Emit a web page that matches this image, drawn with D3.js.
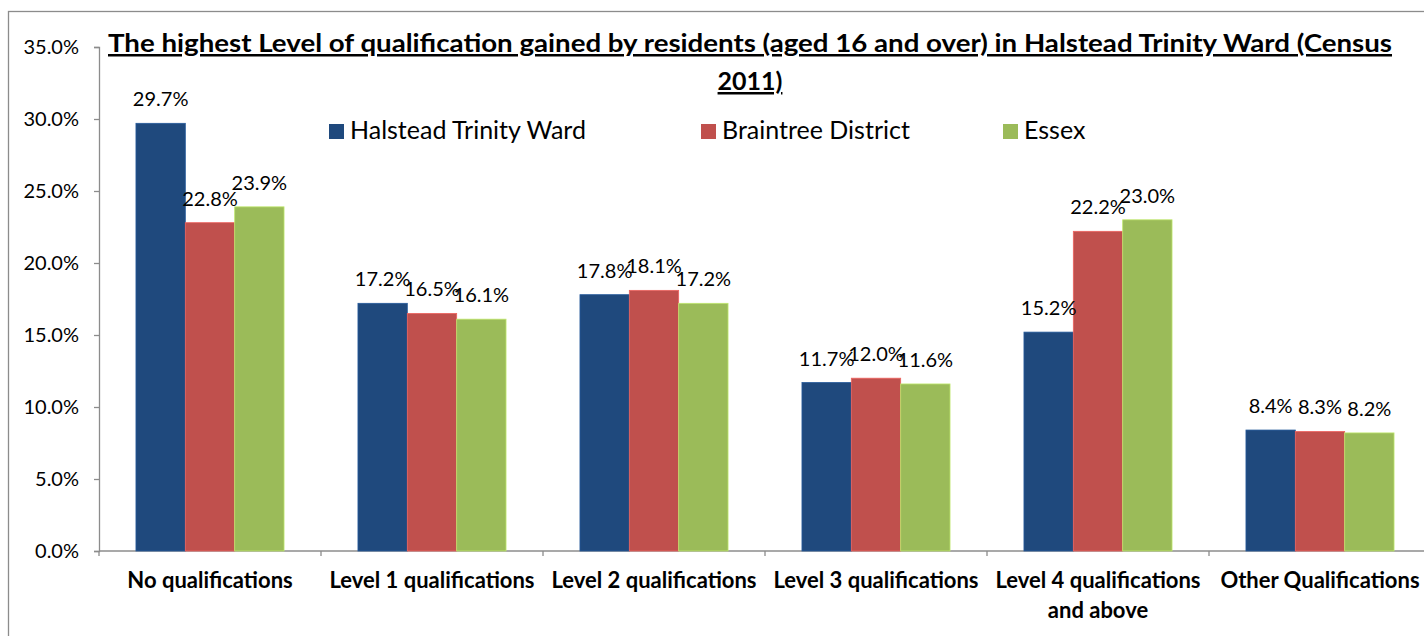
<!DOCTYPE html>
<html lang="en">
<head>
<meta charset="UTF-8">
<title>Highest level of qualification - Halstead Trinity Ward</title>
<script src="https://cdn.jsdelivr.net/npm/d3@7"></script>
<style>
    body { margin: 0; background: #fff; }
    svg { display: block; font-family: "Lato", "Open Sans", sans-serif; }
</style>
</head>
<body>
<div id="chart"></div>
<script>
    // ---------------- data ----------------
    const categories = ["No qualifications", "Level 1 qualifications", "Level 2 qualifications",
        "Level 3 qualifications", "Level 4 qualifications\nand above", "Other Qualifications"];
    const seriesNames = ["Halstead Trinity Ward", "Braintree District", "Essex"];
    const halstead = [29.7, 17.2, 17.8, 11.7, 15.2, 8.4];
    const braintree = [22.8, 16.5, 18.1, 12.0, 22.2, 8.3];
    const essex = [23.9, 16.1, 17.2, 11.6, 23.0, 8.2];
    const yTicks = [0, 5, 10, 15, 20, 25, 30, 35];
    const colors = ["#1F497D", "#C0504D", "#9BBB59"];

    const seriesValues = [halstead, braintree, essex];

    // ---------------- layout ----------------
    const W = 1424, H = 636;
    const plotLeft = 99, plotTop = 47, plotBottom = 551;
    const band = 222;

    const svg = d3.select("#chart").append("svg")
        .attr("width", W).attr("height", H);

    // outer chart border (cut off at right/bottom like the source)
    svg.append("rect")
        .attr("x", 8.5).attr("y", 11.5)
        .attr("width", W + 20).attr("height", H + 20)
        .attr("fill", "none").attr("stroke", "#8c8c8c").attr("stroke-width", 1.3);

    const x0 = d3.scaleBand()
        .domain(categories)
        .range([plotLeft, plotLeft + band * categories.length])
        .paddingInner(0.333).paddingOuter(0.1665);
    const x1 = d3.scaleBand()
        .domain(seriesNames)
        .range([0, x0.bandwidth()]);
    const y = d3.scaleLinear().domain([0, 35]).range([plotBottom, plotTop]);

    // y axis
    const yAxis = d3.axisLeft(y)
        .tickValues(yTicks)
        .tickFormat(d => d.toFixed(1) + "%")
        .tickSizeOuter(0).tickSize(5).tickPadding(15);
    const gy = svg.append("g").attr("transform", `translate(${plotLeft},0)`).call(yAxis);
    gy.select(".domain").attr("stroke", "#8c8c8c").attr("stroke-width", 1.3);
    gy.selectAll(".tick line").attr("stroke", "#8c8c8c").attr("stroke-width", 1.3);
    gy.selectAll("text").attr("font-size", 20).attr("fill", "#000")
        .attr("font-family", "Lato, sans-serif");

    // x axis (category boundaries as ticks)
    svg.append("line")
        .attr("x1", plotLeft).attr("x2", W)
        .attr("y1", plotBottom).attr("y2", plotBottom)
        .attr("stroke", "#8c8c8c").attr("stroke-width", 1.3);
    svg.selectAll(".xtick")
        .data(d3.range(categories.length + 1))
        .enter().append("line")
        .attr("x1", i => plotLeft + i * band).attr("x2", i => plotLeft + i * band)
        .attr("y1", plotBottom).attr("y2", plotBottom + 5)
        .attr("stroke", "#8c8c8c").attr("stroke-width", 1.3);

    // category labels
    svg.selectAll(".cat")
        .data(categories)
        .enter().append("text")
        .attr("text-anchor", "middle")
        .attr("font-size", 22).attr("font-weight", "bold")
        .attr("x", d => x0(d) + x0.bandwidth() / 2)
        .attr("y", 588)
        .each(function (d) {
            const t = d3.select(this);
            d.split("\n").forEach((line, i) => {
                t.append("tspan")
                    .attr("x", x0(d) + x0.bandwidth() / 2)
                    .attr("dy", i === 0 ? 0 : 30)
                    .text(line);
            });
        });

    // bars
    const groups = svg.selectAll(".group")
        .data(categories)
        .enter().append("g")
        .attr("transform", d => `translate(${x0(d)},0)`);

    groups.selectAll("rect")
        .data((d, ci) => seriesNames.map((s, si) => ({ s, v: seriesValues[si][ci], si })))
        .enter().append("rect")
        .attr("x", d => x1(d.s))
        .attr("y", d => y(d.v))
        .attr("width", x1.bandwidth())
        .attr("height", d => plotBottom - y(d.v))
        .attr("fill", d => colors[d.si])
        .attr("stroke", d => d3.color(colors[d.si]).brighter(0.6))
        .attr("stroke-width", 0.8);

    groups.selectAll("text")
        .data((d, ci) => seriesNames.map((s, si) => ({ s, v: seriesValues[si][ci], si })))
        .enter().append("text")
        .attr("text-anchor", "middle")
        .attr("font-size", 20)
        .attr("x", d => x1(d.s) + x1.bandwidth() / 2)
        .attr("y", d => y(d.v) - 17)
        .text(d => d.v.toFixed(1) + "%");

    // legend
    const legendX = [329, 701, 1003];
    const legend = svg.selectAll(".legend")
        .data(seriesNames)
        .enter().append("g")
        .attr("transform", (d, i) => `translate(${legendX[i]},124)`);
    legend.append("rect")
        .attr("width", 15).attr("height", 15)
        .attr("fill", (d, i) => colors[i]);
    legend.append("text")
        .attr("x", 21).attr("y", 15)
        .attr("font-size", 25)
        .text(d => d);

    // title
    const title = svg.append("text")
        .attr("text-anchor", "middle")
        .attr("font-size", 25).attr("font-weight", "bold")
        .attr("text-decoration", "underline");
    title.append("tspan")
        .attr("x", 750).attr("y", 52)
        .attr("textLength", 1284).attr("lengthAdjust", "spacingAndGlyphs")
        .text("The highest Level of qualification gained by residents (aged 16 and over) in Halstead Trinity Ward (Census");
    title.append("tspan")
        .attr("x", 750).attr("y", 90)
        .text("2011)");
</script>
</body>
</html>
